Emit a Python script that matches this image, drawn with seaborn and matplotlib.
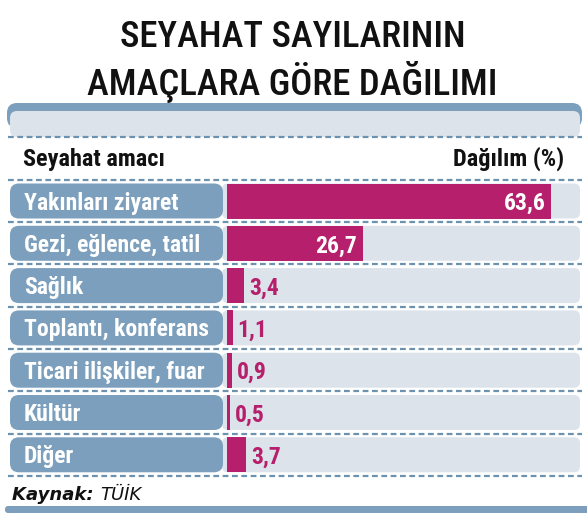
import matplotlib
matplotlib.use("Agg")
import matplotlib.pyplot as plt
import matplotlib.font_manager as fm
from matplotlib.patches import FancyBboxPatch
import seaborn as sns
import pandas as pd

# ---------------- data ----------------
categories = ["Yakınları ziyaret", "Gezi, eğlence, tatil", "Sağlık",
              "Toplantı, konferans", "Ticari ilişkiler, fuar", "Kültür", "Diğer"]
values = [63.6, 26.7, 3.4, 1.1, 0.9, 0.5, 3.7]
value_labels = ["63,6", "26,7", "3,4", "1,1", "0,9", "0,5", "3,7"]
title_lines = ["SEYAHAT SAYILARININ", "AMAÇLARA GÖRE DAĞILIMI"]
header_left = "Seyahat amacı"
header_right = "Dağılım (%)"
source_label = "Kaynak:"
source_name = "TÜİK"

# ---------------- style ----------------
MAGENTA = "#b61f6b"
BLUE = "#7b9fbc"
DASH = "#6d92b0"
TRACK = "#dce3ea"

sns.set_theme(style="white")


def pick_condensed():
    names = {f.name for f in fm.fontManager.ttflist}
    for n in ["Liberation Sans Narrow", "Roboto Condensed", "Open Sans Condensed",
              "DejaVu Sans Condensed"]:
        if n in names:
            return n, "normal"
    for f in fm.fontManager.ttflist:
        if f.name == "DejaVu Sans" and str(f.stretch) in ("condensed", "semi-condensed"):
            return "DejaVu Sans", "condensed"
    return "DejaVu Sans", "normal"


COND, STRETCH = pick_condensed()
plt.rcParams["font.family"] = [COND, "DejaVu Sans"]

W, H = 587, 518
fig = plt.figure(figsize=(W / 100, H / 100), dpi=100)
fig.patch.set_facecolor("white")
ax = fig.add_axes([0, 0, 1, 1])

# pixel geometry -> data mapping
X0, SX = 227.0, 5.1        # zero position and px per percent
Y0, SY = 201.0, 42.3       # first row centre and row pitch (px)


def X(px):
    return (px - X0) / SX


def Y(py):
    return (py - Y0) / SY


ax.set_xlim(X(0), X(W))
ax.set_ylim(Y(H), Y(0))

df = pd.DataFrame({"cat": categories, "val": values})
ROW_H = 35 / SY


def rbox(x0, y0, x1, y1, r, color, z):
    xa, xb = X(x0), X(x1)
    ya, yb = Y(y0), Y(y1)
    p = FancyBboxPatch((xa, min(ya, yb)), xb - xa, abs(yb - ya),
                       boxstyle=f"round,pad=0,rounding_size={r / SX}",
                       mutation_aspect=SX / SY, facecolor=color,
                       edgecolor="none", zorder=z)
    ax.add_patch(p)
    return p


# top band
rbox(7, 103, 582, 128, 10, BLUE, 1)
rbox(10, 111, 580, 137, 7, TRACK, 2)

# gray tracks and label boxes for each row
for i, cat in enumerate(categories):
    cy = Y0 + i * SY
    rbox(X0 - 5, cy - 17.5, 580, cy + 17.5, 6, TRACK, 1)
    rbox(10, cy - 17.5, 223, cy + 17.5, 9, BLUE, 2)
    ax.text(X(24), i + 8.5 / SY, cat, color="white", fontsize=17,
            fontweight="bold", fontstretch=STRETCH, va="baseline", ha="left",
            zorder=5)

# bars
sns.barplot(data=df, x="val", y="cat", orient="h", color=MAGENTA,
            saturation=1, width=ROW_H, ax=ax, zorder=3)
for p in ax.patches:
    if not isinstance(p, FancyBboxPatch):
        p.set_edgecolor("none")
        p.set_zorder(3)
ax.set_xlim(X(0), X(W))
ax.set_ylim(Y(H), Y(0))

# value labels
for i, (v, lab) in enumerate(zip(values, value_labels)):
    if v > 10:
        ax.text(v - 6 / SX, i + 9 / SY, lab, color="white", fontsize=17,
                fontweight="bold", fontstretch=STRETCH, ha="right",
                va="baseline", zorder=5)
    else:
        ax.text(v + 5 / SX, i + 9 / SY, lab, color=MAGENTA, fontsize=17,
                fontweight="bold", fontstretch=STRETCH, ha="left",
                va="baseline", zorder=5)

# dashed separators
sep_px = [136.5] + [Y0 + (i + 0.5) * SY for i in range(-1, len(categories))]
for py in sep_px:
    ax.plot([X(8), X(582)], [Y(py), Y(py)], color=DASH, lw=1.6,
            linestyle=(0, (2.6, 1.6)), zorder=6, solid_capstyle="butt")

# header row
ax.text(X(23), Y(166), header_left, color="#111111", fontsize=17.5,
        fontweight="bold", fontstretch=STRETCH, va="baseline", ha="left")
ax.text(X(564), Y(166), header_right, color="#111111", fontsize=17.5,
        fontweight="bold", fontstretch=STRETCH, va="baseline", ha="right")

# title
ax.text(X(W / 2 - 1), Y(47), title_lines[0], color="#111111", fontsize=26.5,
        fontweight="medium", fontstretch=STRETCH, ha="center", va="baseline")
ax.text(X(W / 2 - 1), Y(95), title_lines[1], color="#111111", fontsize=26.5,
        fontweight="medium", fontstretch=STRETCH, ha="center", va="baseline")

# source
t1 = ax.text(X(12), Y(500), source_label + " ", color="#111111", fontsize=13,
             fontweight="bold", fontstyle="italic", family="DejaVu Sans",
             va="baseline", ha="left")
ax.annotate(source_name, xy=(1, 0), xycoords=t1, xytext=(0, 0),
            textcoords="offset points", color="#111111", fontsize=13,
            fontstyle="italic", family="DejaVu Sans", va="bottom", ha="left")

# bottom rule
rbox(5, 506, 600, 513, 3, BLUE, 1)

ax.axis("off")
fig.savefig("out.png", dpi=100, facecolor="white")
